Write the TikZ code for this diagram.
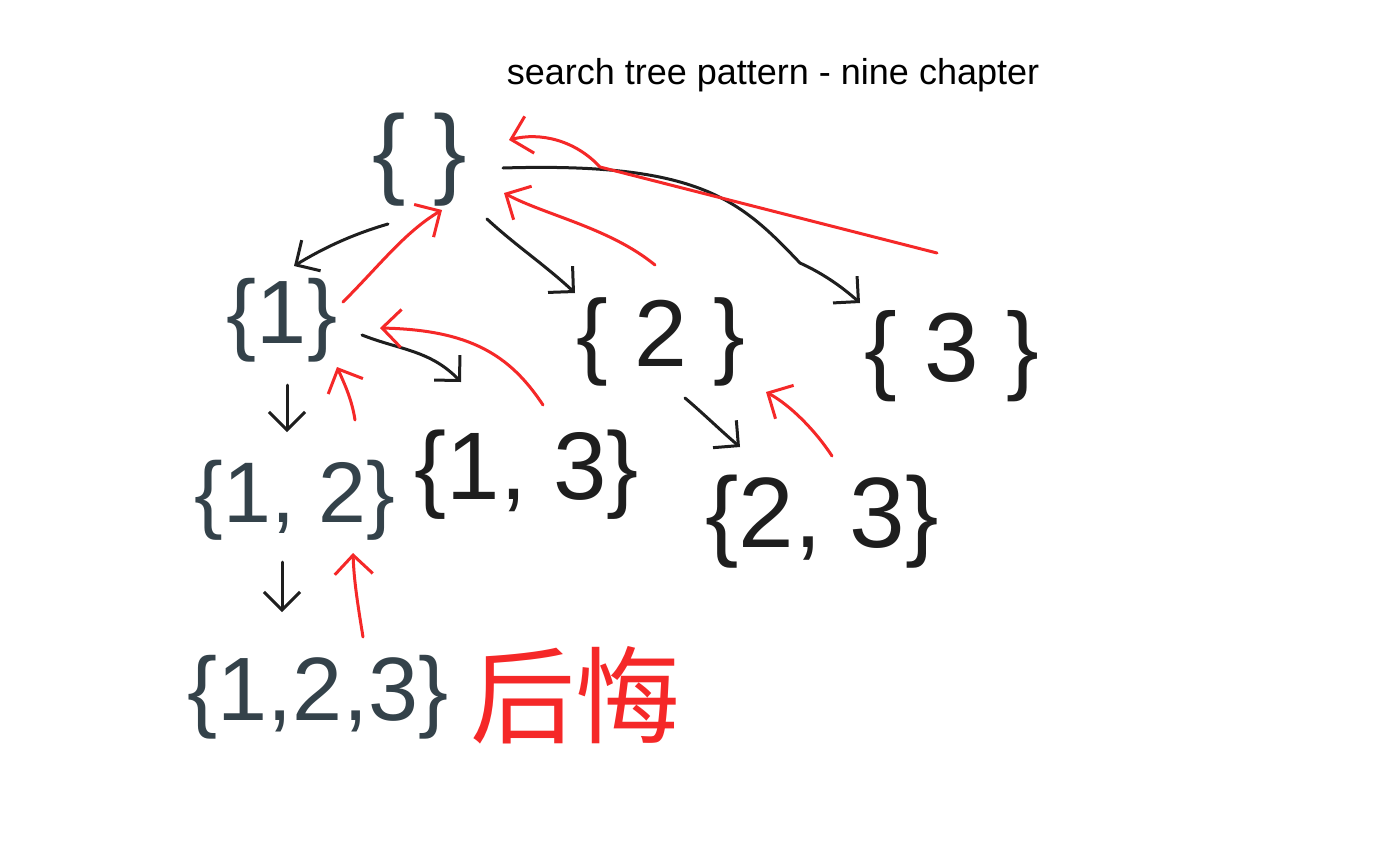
\documentclass[tikz,border=0pt]{standalone}
\usepackage{fontspec}
\setmainfont{Liberation Sans}
\newfontfamily\cjk{Noto Sans CJK SC}
\usetikzlibrary{arrows.meta,calc}
\definecolor{slate}{RGB}{52,66,74}
\definecolor{ink}{RGB}{30,30,30}
\definecolor{pen}{RGB}{245,40,40}
\tikzset{
  setlabel/.style={inner sep=0pt, font=\fontsize{#1}{#1}\selectfont},
  blackarrow/.style={draw=ink, line width=3pt, line cap=round, line join=round,
    -{Straight Barb[length=18pt,width=36pt,line width=3pt]}},
  redarrow/.style={draw=pen, line width=3pt, line cap=round, line join=round,
    -{Straight Barb[length=19pt,width=38pt,line width=3pt]}},
}
\begin{document}
\begin{tikzpicture}[x=1pt,y=-1pt]
\fill[white] (0,0) rectangle (1400,855);
\useasboundingbox (0,0) rectangle (1400,855);

% title
\node[inner sep=0pt, font=\fontsize{36}{36}\selectfont, text=black] (title) at (773,75) {search tree pattern - nine chapter};

% sets
\node[setlabel=100, text=slate] (n0) at (420,160) {\{ \}};
\node[setlabel=90, text=slate] (n1) at (282,320) {\{1\}};
\node[setlabel=95, text=ink] (n2) at (661,342) {\{ 2 \}};
\node[setlabel=98, text=ink] (n3) at (952,356) {\{ 3 \}};
\node[setlabel=86, text=slate] (n12) at (295,500) {\{1, 2\}};
\node[setlabel=96, text=ink] (n13) at (527,475) {\{1, 3\}};
\node[setlabel=100, text=ink] (n23) at (822,522) {\{2, 3\}};
\node[setlabel=90, text=slate] (n123) at (318,697) {\{1,2,3\}};
\node[inner sep=0pt, font=\cjk\fontsize{105}{105}\selectfont, text=pen] (regret) at (575,695) {后悔};

% black arrows (search)
\draw[blackarrow] ($(n0)+(-32,64)$) .. controls (350,235) and (320,250) .. ($(n1)+(12,-54)$);
\draw[blackarrow] ($(n0)+(67,59)$) .. controls (515,245) and (545,265) .. ($(n2)+(-86,-49)$);
\draw[blackarrow] ($(n0)+(83,8)$) .. controls (700,162) and (740,200) .. (800,263) .. controls (820,272) and (840,285) .. ($(n3)+(-92,-53)$);
\draw[blackarrow] ($(n1)+(5,65)$) -- ($(n12)+(-8,-68)$);
\draw[blackarrow] ($(n1)+(80,15)$) .. controls (400,350) and (430,350) .. ($(n13)+(-66,-93)$);
\draw[blackarrow] ($(n2)+(24,56)$) .. controls (705,415) and (720,430) .. ($(n23)+(-82,-75)$);
\draw[blackarrow] ($(n12)+(-13,62)$) -- ($(n123)+(-36,-85)$);

% red arrows (backtracking)
\draw[redarrow] ($(n1)+(61,-18)$) .. controls (380,265) and (405,232) .. ($(n0)+(22,50)$);
\draw[redarrow] ($(n2)+(-6,-77)$) .. controls (610,228) and (545,215) .. ($(n0)+(84,33)$);
\draw[redarrow] ($(n3)+(-15,-103)$) -- (600,167) .. controls (575,140) and (540,132) .. ($(n0)+(89,-20)$);
\draw[redarrow] ($(n13)+(16,-70)$) .. controls (510,355) and (470,330) .. ($(n1)+(98,8)$);
\draw[redarrow] ($(n12)+(60,-80)$) .. controls (352,400) and (345,385) .. ($(n1)+(55,47)$);
\draw[redarrow] ($(n23)+(10,-66)$) .. controls (815,430) and (790,405) .. ($(n2)+(105,50)$);
\draw[redarrow] ($(n123)+(45,-60)$) .. controls (357,600) and (354,580) .. ($(n12)+(58,53)$);
\end{tikzpicture}
\end{document}
